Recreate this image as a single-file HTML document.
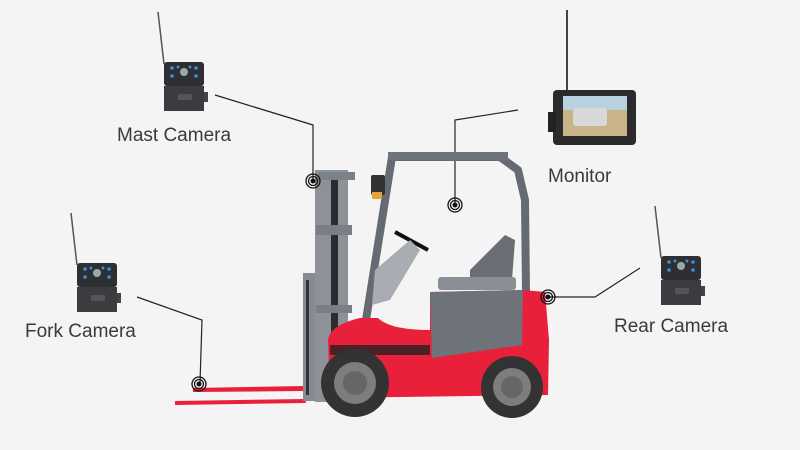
<!DOCTYPE html>
<html><head><style>
html,body{margin:0;padding:0;background:#f4f4f4}
svg{display:block}
text{font-family:"Liberation Sans",sans-serif;font-size:19px;fill:#3a3a3a}
</style></head><body>
<svg width="800" height="450" viewBox="0 0 800 450" xmlns="http://www.w3.org/2000/svg">
<rect width="800" height="450" fill="#f4f4f4"/>
<defs>
<g id="cam">
<line x1="-12" y1="-50" x2="-6" y2="2" stroke="#555" stroke-width="1.5"/>
<rect x="-6" y="0" width="40" height="24" rx="3" fill="#2d2f33"/>
<g fill="#3a8fd6"><circle cx="2" cy="6" r="1.8"/><circle cx="2" cy="14" r="1.8"/><circle cx="26" cy="6" r="1.8"/><circle cx="26" cy="14" r="1.8"/><circle cx="8" cy="5" r="1.5"/><circle cx="20" cy="5" r="1.5"/></g>
<circle cx="14" cy="10" r="4" fill="#9aa"/>
<rect x="-6" y="24" width="40" height="25" fill="#3a3c40"/>
<rect x="8" y="32" width="14" height="6" fill="#555"/>
<rect x="34" y="30" width="4" height="10" fill="#444"/>
</g>
<g id="tgt"><circle r="7" fill="none" stroke="#111" stroke-width="1.3"/><circle r="4.5" fill="none" stroke="#111" stroke-width="1.3"/><circle r="2.5" fill="#111"/></g>
</defs>

<use href="#cam" x="170" y="62"/>
<use href="#cam" x="83" y="263"/>
<use href="#cam" x="667" y="256"/>

<line x1="567" y1="10" x2="567" y2="92" stroke="#444" stroke-width="2"/>
<rect x="553" y="90" width="83" height="55" rx="4" fill="#2b2b2b"/>
<rect x="563" y="96" width="64" height="40" fill="#c9b48a"/>
<rect x="563" y="96" width="64" height="14" fill="#b9d0e0"/>
<rect x="573" y="108" width="34" height="18" rx="3" fill="#d8d8d8"/>
<rect x="548" y="112" width="8" height="20" fill="#222"/>

<g stroke="#222" stroke-width="1.2" fill="none">
<polyline points="215,95 313,125 313,180"/>
<polyline points="518,110 455,120 455,205"/>
<polyline points="640,268 595,297 548,297"/>
<polyline points="137,297 202,320 200,383"/>
</g>

<g fill="#e8203a">
<polygon points="175,401 305,399 306,403 175,405"/>
<polygon points="193,388 305,386 305,391 193,392"/>
</g>

<rect x="303" y="273" width="13" height="128" fill="#868a91"/>
<rect x="306" y="280" width="3" height="115" fill="#333"/>
<rect x="315" y="170" width="33" height="232" fill="#8d9198"/>
<rect x="318" y="172" width="37" height="8" fill="#7c8087"/>
<rect x="331" y="180" width="7" height="210" fill="#2a2c30"/>
<rect x="316" y="225" width="36" height="10" fill="#7a7e85"/>
<rect x="316" y="305" width="36" height="8" fill="#7a7e85"/>

<g fill="none" stroke="#666a72" stroke-width="8" stroke-linejoin="round">
<polyline points="366,320 392,157 500,157 518,170 525,200 526,292"/>
</g>
<rect x="388" y="152" width="120" height="8" fill="#6f737b"/>
<rect x="371" y="175" width="14" height="20" rx="2" fill="#333"/>
<rect x="372" y="192" width="10" height="7" fill="#e6a23c"/>
<line x1="395" y1="232" x2="428" y2="250" stroke="#111" stroke-width="4"/>
<polygon points="375,270 410,240 420,250 390,300 372,305" fill="#a9adb3"/>
<path d="M470,270 L505,235 L515,240 L512,280 L470,282 Z" fill="#6a6e75"/>
<rect x="438" y="277" width="78" height="13" rx="3" fill="#8a8e95"/>
<path d="M328,340 Q330,325 360,318 L378,318 Q390,330 430,330 L430,292 L523,290 L545,292 L549,340 L548,395 L330,398 Z" fill="#e8203a"/>
<path d="M430,292 L523,290 L522,345 L432,358 Z" fill="#6e7279"/>
<rect x="330" y="345" width="100" height="10" fill="#222" opacity=".8"/>
<circle cx="355" cy="383" r="34" fill="#333"/>
<circle cx="355" cy="383" r="21" fill="#7d7d7d"/>
<circle cx="355" cy="383" r="12" fill="#666"/>
<circle cx="512" cy="387" r="31" fill="#333"/>
<circle cx="512" cy="387" r="19" fill="#7d7d7d"/>
<circle cx="512" cy="387" r="11" fill="#666"/>

<use href="#tgt" x="313" y="181"/>
<use href="#tgt" x="455" y="205"/>
<use href="#tgt" x="548" y="297"/>
<use href="#tgt" x="199" y="384"/>

<text x="117" y="141">Mast Camera</text>
<text x="548" y="182">Monitor</text>
<text x="25" y="337">Fork Camera</text>
<text x="614" y="332">Rear Camera</text>
</svg>
</body></html>
